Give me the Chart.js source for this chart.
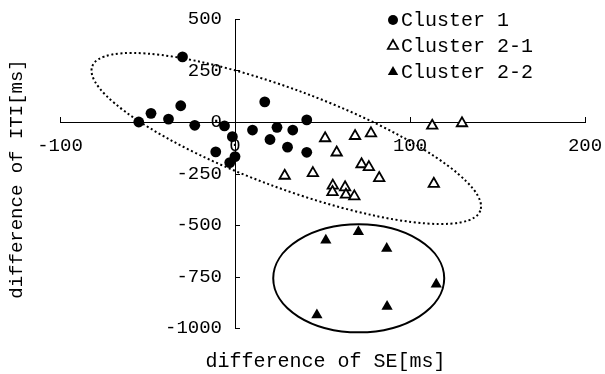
<!DOCTYPE html>
<html><head><meta charset="utf-8">
<script src="https://cdn.jsdelivr.net/npm/chart.js@4.4.1/dist/chart.umd.min.js"></script>
<style>html,body{margin:0;padding:0;background:#fff}#wrap{width:605px;height:374px}</style>
</head><body><div id="wrap"><canvas id="c" width="605" height="374"></canvas></div>
<script>
// ---- data ----
const seriesNames = ['Cluster 1', 'Cluster 2-1', 'Cluster 2-2'];
const cluster1X = [-30, -55, -48, -38, -31, -23, -6, -1.5, -11, -3, 0, 17, 10, 20, 24, 30, 33, 41, 41];
const cluster1Y = [316, 0, 42, 14, 79, -16, -19, -71, -145, -197, -168, 98, -39, -85, -26, -122, -39, 10, -147];
const cluster21X = [51.5, 68.6, 77.7, 58.1, 112.7, 129.7, 28.4, 44.5, 72.3, 76.5, 82.4, 55.9, 62.9, 55.7, 63.4, 68.2, 113.6];
const cluster21Y = [-79, -68, -55, -148, -18, -6, -261, -248, -205, -219, -272, -309, -317, -340, -353, -361, -300];
const cluster22X = [51.9, 70.5, 86.7, 115, 86.9, 46.8];
const cluster22Y = [-574, -533, -614, -788, -896, -937];
const xTicks = [-100, 0, 100, 200];
const yTicks = [500, 250, 0, -250, -500, -750, -1000];
const xTitle = 'difference of SE[ms]';
const yTitle = 'difference of ITI[ms]';
// ellipse annotations: centers in data units
const dottedCenter = [29.3, -80];
const solidCenter = [70.7, -759];

const FONT = "'Liberation Mono', 'DejaVu Sans Mono', monospace";
const toPts = (xs, ys) => xs.map((x, i) => ({x, y: ys[i]}));

const decor = {
  id: 'decor',
  beforeDraw(chart) {
    const s = chart.scales.y;
    if (s && s._computeLabelItems) {
      const items = s._computeLabelItems(chart.chartArea);
      items.forEach(it => { if (it.options && it.options.translation) it.options.translation[0] -= 13; });
      s._labelItems = items;
    }
  },
  afterDraw(chart) {
    const ctx = chart.ctx, sx = chart.scales.x, sy = chart.scales.y;
    const x0 = sx.getPixelForValue(0), y0 = sy.getPixelForValue(0);
    ctx.save();
    ctx.strokeStyle = '#000';
    ctx.lineWidth = 1;
    // tick marks pointing inward
    ctx.beginPath();
    xTicks.forEach(v => { if (v !== 0) { const p = Math.round(sx.getPixelForValue(v)) + 0.5; ctx.moveTo(p, y0); ctx.lineTo(p, y0 - 5); } });
    yTicks.forEach(v => { if (v !== 0) { const p = Math.round(sy.getPixelForValue(v)) + 0.5; ctx.moveTo(x0, p); ctx.lineTo(x0 + 5, p); } });
    ctx.stroke();
    // dotted ellipse
    ctx.beginPath();
    ctx.lineWidth = 2;
    ctx.setLineDash([2, 2.6]);
    ctx.ellipse(sx.getPixelForValue(dottedCenter[0]), sy.getPixelForValue(dottedCenter[1]), 207, 49, 20.4 * Math.PI / 180, 0, Math.PI * 2);
    ctx.stroke();
    // solid ellipse
    ctx.setLineDash([]);
    ctx.beginPath();
    ctx.lineWidth = 2;
    ctx.ellipse(sx.getPixelForValue(solidCenter[0]), sy.getPixelForValue(solidCenter[1]), 85.5, 54, 0, 0, Math.PI * 2);
    ctx.stroke();
    // titles
    const ca = chart.chartArea;
    ctx.fillStyle = '#000';
    ctx.font = '20px ' + FONT;
    ctx.textAlign = 'center';
    ctx.textBaseline = 'middle';
    ctx.fillText(xTitle, (ca.left + ca.right) / 2 + 3, 362);
    ctx.save();
    ctx.font = '19px ' + FONT;
    ctx.translate(17, 179);
    ctx.rotate(-Math.PI / 2);
    ctx.fillText(yTitle, 0, 0);
    ctx.restore();
    // legend
    const lx = 393, rows = [20, 46, 72];
    ctx.textAlign = 'left';
    ctx.font = '20px ' + FONT;
    chart.data.datasets.forEach((ds, i) => {
      const y = rows[i];
      ctx.beginPath();
      if (i === 0) {
        ctx.arc(lx, y, 5, 0, Math.PI * 2);
        ctx.fillStyle = '#000'; ctx.fill();
      } else {
        const r = 6;
        ctx.moveTo(lx, y - r);
        ctx.lineTo(lx + r * 0.866, y + r * 0.5);
        ctx.lineTo(lx - r * 0.866, y + r * 0.5);
        ctx.closePath();
        if (i === 1) { ctx.fillStyle = '#fff'; ctx.fill(); ctx.lineWidth = 1.7; ctx.stroke(); }
        else { ctx.fillStyle = '#000'; ctx.fill(); }
      }
      ctx.fillStyle = '#000';
      ctx.fillText(ds.label, lx + 8, y + 1);
    });
    ctx.restore();
  }
};

new Chart(document.getElementById('c'), {
  type: 'scatter',
  data: {
    datasets: [
      {label: seriesNames[0], data: toPts(cluster1X, cluster1Y), pointStyle: 'circle', pointRadius: 5.4, backgroundColor: '#000', borderColor: '#000', borderWidth: 0},
      {label: seriesNames[1], data: toPts(cluster21X, cluster21Y), pointStyle: 'triangle', pointRadius: 6, backgroundColor: '#fff', borderColor: '#000', borderWidth: 1.8},
      {label: seriesNames[2], data: toPts(cluster22X, cluster22Y), pointStyle: 'triangle', pointRadius: 6.5, backgroundColor: '#000', borderColor: '#000', borderWidth: 0}
    ]
  },
  options: {
    responsive: false,
    animation: false,
    devicePixelRatio: 1,
    layout: {padding: {left: 60, right: 20, top: 19, bottom: 46}},
    plugins: {legend: {display: false}, tooltip: {enabled: false}},
    scales: {
      x: {
        type: 'linear', min: -100, max: 200, position: {y: 0},
        afterFit: s => { s.height = 0; s.paddingLeft = 0; s.paddingRight = 0; s.paddingTop = 0; s.paddingBottom = 0; },
        afterBuildTicks: s => { s.ticks = xTicks.map(v => ({value: v})); },
        grid: {drawOnChartArea: false, drawTicks: false},
        border: {display: true, color: '#000', width: 1},
        ticks: {color: '#000', font: {family: FONT, size: 19}, padding: 13, maxRotation: 0, autoSkip: false, callback: v => String(v)}
      },
      y: {
        type: 'linear', min: -1000, max: 500, position: {x: 0},
        afterFit: s => { s.width = 0; s.paddingLeft = 0; s.paddingRight = 0; s.paddingTop = 0; s.paddingBottom = 0; },
        afterBuildTicks: s => { s.ticks = yTicks.map(v => ({value: v})); },
        grid: {drawOnChartArea: false, drawTicks: false},
        border: {display: true, color: '#000', width: 1},
        ticks: {color: '#000', font: {family: FONT, size: 19}, padding: 15, autoSkip: false, callback: v => String(v)}
      }
    }
  },
  plugins: [decor]
});
</script></body></html>
